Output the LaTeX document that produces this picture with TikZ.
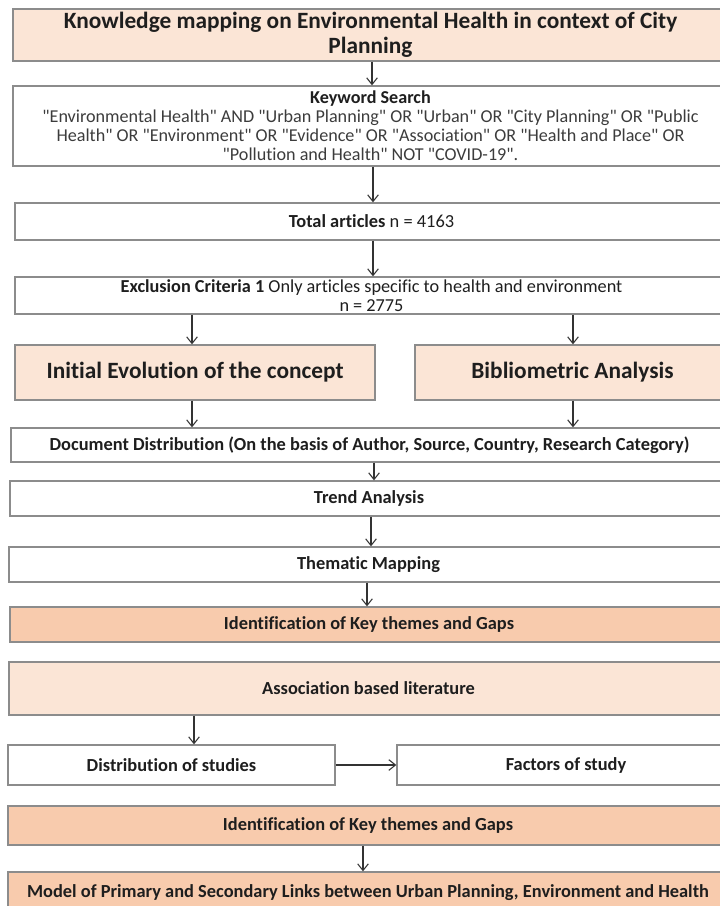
\documentclass[tikz,border=0pt]{standalone}
\usepackage{fontspec}
\setmainfont{Carlito}[Ligatures={TeXOff,CommonOff}]
\usetikzlibrary{arrows.meta}
\definecolor{peachL}{HTML}{FBE5D6}
\definecolor{peachD}{HTML}{F8CBAD}
\definecolor{bordr}{HTML}{8C8C8C}
\definecolor{txt}{HTML}{1E1E1E}
\definecolor{txtb}{HTML}{3C3C3C}
\definecolor{arrc}{HTML}{333333}
\tikzset{
  box/.style={draw=bordr, line width=1pt, fill=white, inner sep=0pt, align=center, text=txt},
  lbox/.style={box, fill=peachL},
  dbox/.style={box, fill=peachD},
  arr/.style={draw=arrc, line width=0.8pt, -{Straight Barb[length=5pt,width=8pt,line width=0.8pt]}},
  fs/.style={font=\fontsize{13.8pt}{16pt}\selectfont\bfseries},
  fbig/.style={font=\fontsize{17.5pt}{18.75pt}\selectfont\bfseries},
}
\begin{document}
\begin{tikzpicture}[x=0.75pt,y=-0.75pt]
\useasboundingbox (0,0) rectangle (720,906);
\clip (0,0) rectangle (720,906);
\fill[white] (0,0) rectangle (720,906);
% boxes
\node[lbox, fbig, minimum width=536.25pt, minimum height=39pt] (title) at (370.5,35) {Knowledge mapping on Environmental Health in context of City\\Planning};
\node[box, minimum width=536.25pt, minimum height=60pt, font=\fontsize{13.6pt}{14.3pt}\selectfont] (kw) at (370.5,126) {\textbf{Keyword Search}\\
{\color{txtb}"Environmental Health" AND "Urban Planning" OR "Urban" OR "City Planning" OR "Public}\\
{\color{txtb}Health" OR "Environment" OR "Evidence" OR "Association" OR "Health and Place" OR}\\
{\color{txtb}"Pollution and Health" NOT "COVID-19".}};
\node[box, minimum width=534.75pt, minimum height=27.75pt, font=\fontsize{13.8pt}{16pt}\selectfont] (total) at (371.5,221.5) {\textbf{Total articles} n = 4163};
\node[box, minimum width=534.75pt, minimum height=27.75pt, font=\fontsize{13.7pt}{14.5pt}\selectfont] (excl) at (371.5,295.5) {\textbf{Exclusion Criteria 1} Only articles specific to health and environment\\n = 2775};
\node[lbox, fbig, minimum width=270pt, minimum height=41.25pt] (init) at (195,372.5) {Initial Evolution of the concept};
\node[lbox, fbig, minimum width=236.25pt, minimum height=41.25pt] (bib) at (572.5,372.5) {Bibliometric Analysis};
\node[box, fs, minimum width=537.75pt, minimum height=25.5pt] (doc) at (369.5,445) {Document Distribution (On the basis of Author, Source, Country, Research Category)};
\node[box, fs, minimum width=538.5pt, minimum height=26.25pt] (trend) at (369,498.5) {Trend Analysis};
\node[box, fs, minimum width=539.25pt, minimum height=26.25pt] (them) at (368.5,564.5) {Thematic Mapping};
\node[dbox, fs, minimum width=538.5pt, minimum height=26.25pt] (id1) at (369,624.5) {Identification of Key themes and Gaps};
\node[lbox, fs, minimum width=539.25pt, minimum height=39.75pt] (assoc) at (368.5,688.5) {Association based literature};
\node[box, fs, minimum width=245.25pt, minimum height=30pt] (dist) at (171.5,765) {Distribution of studies};
\node[box, fs, minimum width=253.5pt, minimum height=30pt] (fac) at (566,765) {Factors of study};
\node[dbox, fs, minimum width=540pt, minimum height=29.25pt] (id2) at (368,825.5) {Identification of Key themes and Gaps};
\node[dbox, fs, minimum width=540pt, minimum height=31.5pt] (model) at (368,893) {Model of Primary and Secondary Links between Urban Planning, Environment and Health};
% x positions of connectors
\coordinate (xa) at (372,0);
\coordinate (xb) at (373,0);
\coordinate (xl) at (192,0);
\coordinate (xr) at (573,0);
\coordinate (xc) at (374,0);
\coordinate (xd) at (371,0);
\coordinate (xe) at (367,0);
\coordinate (xf) at (194,0);
\coordinate (xg) at (363,0);
\coordinate (ym) at (0,765);
% connectors
\draw[arr] (title.south -| xa) -- (kw.north -| xa);
\draw[arr] (kw.south -| xb) -- (total.north -| xb);
\draw[arr] (total.south -| xb) -- (excl.north -| xb);
\draw[arr] (excl.south -| xl) -- (init.north -| xl);
\draw[arr] (excl.south -| xr) -- (bib.north -| xr);
\draw[arr] (init.south -| xl) -- (doc.north -| xl);
\draw[arr] (bib.south -| xr) -- (doc.north -| xr);
\draw[arr] (doc.south -| xc) -- (trend.north -| xc);
\draw[arr] (trend.south -| xd) -- (them.north -| xd);
\draw[arr] (them.south -| xe) -- (id1.north -| xe);
\draw[arr] (assoc.south -| xf) -- (dist.north -| xf);
\draw[arr] (dist.east |- ym) -- (fac.west |- ym);
\draw[arr] (id2.south -| xg) -- (model.north -| xg);
\end{tikzpicture}
\end{document}
